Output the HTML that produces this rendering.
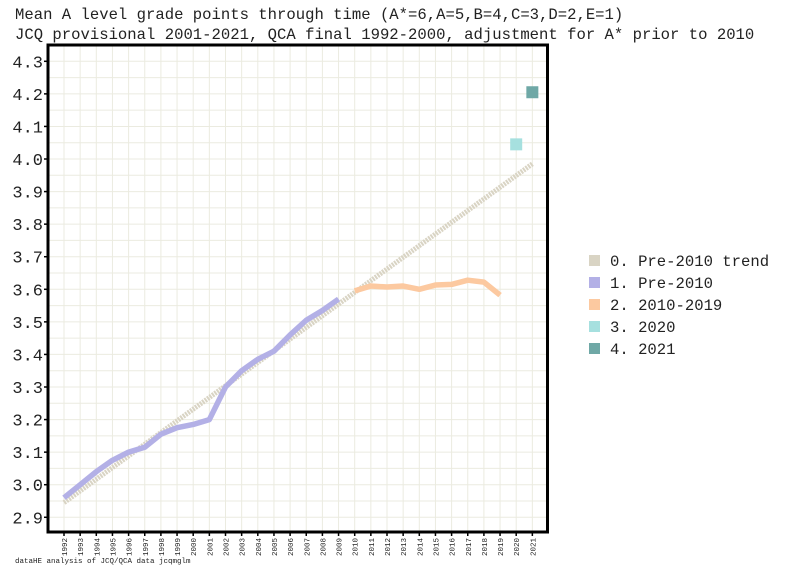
<!DOCTYPE html>
<html><head><meta charset="utf-8"><style>
html,body{margin:0;padding:0;background:#fff;width:785px;height:575px;overflow:hidden}
svg{display:block}
text{font-family:"Liberation Mono","DejaVu Sans Mono",monospace;fill:#222}
</style></head><body>
<svg width="785" height="575" viewBox="0 0 785 575" xmlns="http://www.w3.org/2000/svg">
<text x="15" y="19" font-size="15.6">Mean A level grade points through time (A*=6,A=5,B=4,C=3,D=2,E=1)</text>
<text x="15" y="39" font-size="15.6">JCQ provisional 2001-2021, QCA final 1992-2000, adjustment for A* prior to 2010</text>
<g id="grid" stroke="#ebebe0" stroke-width="1"></g>
<g id="plot"></g>
<rect x="48" y="45" width="499.5" height="487" fill="none" stroke="#000" stroke-width="3"/>
<g id="axes"></g>
<text x="15" y="563" font-size="7.5">dataHE analysis of JCQ/QCA data jcqmglm</text>
<g font-size="15.6">
<rect x="589" y="255" width="11" height="11" fill="#d9d4c4"/><text x="610" y="266">0. Pre-2010 trend</text>
<rect x="589" y="277" width="11" height="11" fill="#b3b0e6"/><text x="610" y="288">1. Pre-2010</text>
<rect x="589" y="299" width="11" height="11" fill="#fcc9a0"/><text x="610" y="310">2. 2010-2019</text>
<rect x="589" y="321" width="11" height="11" fill="#a6e0df"/><text x="610" y="332">3. 2020</text>
<rect x="589" y="343" width="11" height="11" fill="#6fa8a6"/><text x="610" y="354">4. 2021</text>
</g>
</svg>
<script>
const X=y=>64+16.15*(y-1992), Y=v=>61.3+(4.3-v)*325.7;
const ns="http://www.w3.org/2000/svg";
function el(p,t,a,txt){const e=document.createElementNS(ns,t);for(const k in a)e.setAttribute(k,a[k]);if(txt)e.textContent=txt;p.appendChild(e);return e;}
const g=document.getElementById('grid'),pl=document.getElementById('plot'),ax=document.getElementById('axes');
for(let v=2.85;v<=4.351;v+=0.05){const y=Y(v);if(y>46&&y<531)el(g,'line',{x1:49,x2:546,y1:y,y2:y});}
for(let yr=1992;yr<=2021;yr++){const x=X(yr);el(g,'line',{x1:x,x2:x,y1:46,y2:531});
 el(ax,'line',{x1:x,x2:x,y1:532,y2:536,stroke:'#000','stroke-width':1.5});
 el(ax,'text',{x:0,y:0,'font-size':7.5,'text-anchor':'end',transform:`translate(${x+3},${538}) rotate(-90)`},String(yr));}
for(let i=0;i<=14;i++){const v=2.9+i*0.1,y=Y(v);
 el(ax,'line',{x1:44,x2:48,y1:y,y2:y,stroke:'#000','stroke-width':1.5});
 el(ax,'text',{x:43,y:y+6,'font-size':17,'text-anchor':'end'},v.toFixed(1));}
el(pl,'line',{x1:X(1992),y1:Y(2.945),x2:X(2021),y2:Y(3.985),stroke:'#d9d4c4','stroke-width':5,'stroke-dasharray':'2 1'});
const blue=[2.96,3.0,3.04,3.075,3.10,3.115,3.155,3.175,3.185,3.20,3.30,3.35,3.385,3.41,3.46,3.505,3.535,3.57];
el(pl,'polyline',{points:blue.map((v,i)=>X(1992+i)+','+Y(v)).join(' '),fill:'none',stroke:'#b3b0e6','stroke-width':5.5,'stroke-linejoin':'round','stroke-linecap':'butt'});
const org=[3.595,3.61,3.607,3.61,3.60,3.613,3.615,3.628,3.622,3.582];
el(pl,'polyline',{points:org.map((v,i)=>X(2010+i)+','+Y(v)).join(' '),fill:'none',stroke:'#fcc9a0','stroke-width':5.5,'stroke-linejoin':'round'});
el(pl,'rect',{x:X(2020)-6,y:Y(4.045)-6,width:12,height:12,fill:'#a6e0df'});
el(pl,'rect',{x:X(2021)-6,y:Y(4.205)-6,width:12,height:12,fill:'#6fa8a6'});
</script>
</body></html>
